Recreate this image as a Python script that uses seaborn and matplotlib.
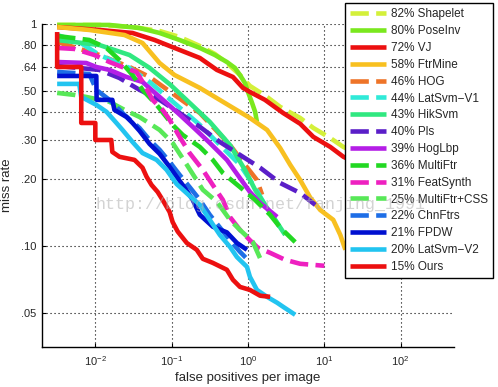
import numpy as np
import pandas as pd
import matplotlib
matplotlib.use("Agg")
import matplotlib.pyplot as plt
import seaborn as sns
from matplotlib.ticker import NullLocator, FixedLocator, FixedFormatter

# ---------------------------------------------
# ROC data (fppi, miss rate)
# ---------------------------------------------
names = ["82% Shapelet", "80% PoseInv", "72% VJ", "58% FtrMine", "46% HOG",
         "44% LatSvm\u2212V1", "43% HikSvm", "40% Pls", "39% HogLbp",
         "36% MultiFtr", "31% FeatSynth", "25% MultiFtr+CSS", "22% ChnFtrs",
         "21% FPDW", "20% LatSvm\u2212V2", "15% Ours"]

shapelet_x = [0.00316, 0.0113, 0.0307, 0.0695, 0.127, 0.234, 0.368, 0.529, 0.785, 1.06, 1.78, 2.64, 4.83, 7.17, 12.0, 17.8, 29.8]
shapelet_y = [0.99, 0.99, 0.969, 0.93, 0.874, 0.796, 0.733, 0.667, 0.589, 0.526, 0.469, 0.423, 0.377, 0.34, 0.306, 0.279, 0.257]

poseinv_x = [0.00316, 0.0153, 0.0379, 0.0695, 0.127, 0.234, 0.368, 0.529, 0.674, 0.785, 0.913, 1.0, 1.13, 1.24, 1.31]
poseinv_y = [0.99, 0.99, 0.959, 0.911, 0.847, 0.78, 0.725, 0.674, 0.634, 0.589, 0.542, 0.494, 0.441, 0.402, 0.362]

vj_x = [0.00316, 0.0113, 0.0307, 0.0597, 0.109, 0.234, 0.391, 0.635, 0.86, 1.06, 1.67, 2.89, 4.83, 7.17, 12.0, 17.8, 29.8]
vj_y = [0.969, 0.94, 0.911, 0.847, 0.78, 0.703, 0.621, 0.577, 0.515, 0.494, 0.455, 0.397, 0.355, 0.31, 0.279, 0.252, 0.232]

ftrmine_x = [0.00316, 0.00834, 0.0241, 0.0415, 0.0695, 0.109, 0.234, 0.635, 1.06, 1.78, 2.64, 3.57, 4.83, 6.54, 8.86, 13.1, 16.2, 18.9]
ftrmine_y = [0.969, 0.94, 0.892, 0.821, 0.667, 0.589, 0.515, 0.419, 0.377, 0.333, 0.276, 0.232, 0.198, 0.165, 0.145, 0.131, 0.112, 0.096]

hog_x = [0.00316, 0.0113, 0.028, 0.0514, 0.109, 0.234, 0.346, 0.58, 0.913, 1.31, 1.53]
hog_y = [0.83, 0.725, 0.64, 0.577, 0.479, 0.397, 0.344, 0.285, 0.232, 0.198, 0.17]

latsvm1_x = [0.00316, 0.00615, 0.0113, 0.028, 0.0514, 0.097, 0.234, 0.428, 0.785, 1.24, 1.67, 2.27, 2.89]
latsvm1_y = [0.892, 0.83, 0.725, 0.634, 0.548, 0.455, 0.351, 0.285, 0.232, 0.183, 0.153, 0.131, 0.115]

hiksvm_x = [0.00316, 0.0113, 0.028, 0.0514, 0.097, 0.172, 0.316, 0.58, 0.913, 1.24, 1.67, 2.27, 3.07]
hiksvm_y = [0.847, 0.804, 0.725, 0.634, 0.531, 0.441, 0.362, 0.285, 0.22, 0.179, 0.153, 0.131, 0.112]

pls_x = [0.00316, 0.0113, 0.0207, 0.0379, 0.0695, 0.127, 0.234, 0.428, 0.785, 1.44, 2.64, 4.83, 7.61]
pls_y = [0.647, 0.621, 0.571, 0.505, 0.455, 0.397, 0.344, 0.294, 0.257, 0.225, 0.192, 0.173, 0.153]

hoglbp_x = [0.00316, 0.00762, 0.0103, 0.0153, 0.0256, 0.0415, 0.0695, 0.116, 0.189, 0.316, 0.529, 0.785, 1.06, 1.44, 2.41]
hoglbp_y = [0.674, 0.667, 0.64, 0.621, 0.577, 0.548, 0.469, 0.402, 0.344, 0.291, 0.244, 0.202, 0.175, 0.156, 0.135]

multiftr_x = [0.00316, 0.00834, 0.014, 0.0207, 0.0307, 0.0415, 0.0635, 0.103, 0.14, 0.234, 0.346, 0.469, 0.785, 1.24, 1.95, 2.64, 4.15]
multiftr_y = [0.883, 0.847, 0.78, 0.688, 0.589, 0.505, 0.432, 0.351, 0.316, 0.279, 0.244, 0.213, 0.184, 0.161, 0.138, 0.121, 0.104]

featsynth_x = [0.00316, 0.0053, 0.0097, 0.0153, 0.0241, 0.0346, 0.0441, 0.0562, 0.0762, 0.0941, 0.127, 0.172, 0.256, 0.346, 0.469, 0.58, 0.785, 1.06, 1.35, 1.95, 3.07, 4.83, 10.0]
featsynth_y = [0.78, 0.772, 0.725, 0.674, 0.634, 0.608, 0.531, 0.455, 0.41, 0.37, 0.31, 0.262, 0.22, 0.188, 0.161, 0.135, 0.118, 0.106, 0.098, 0.093, 0.0865, 0.083, 0.0813]

mfcss_x = [0.00316, 0.0053, 0.00762, 0.0153, 0.0241, 0.0379, 0.0695, 0.103, 0.158, 0.256, 0.391, 0.58, 0.785, 1.16, 1.44]
mfcss_y = [0.489, 0.479, 0.469, 0.446, 0.41, 0.381, 0.333, 0.291, 0.232, 0.179, 0.158, 0.131, 0.118, 0.104, 0.088]

chnftrs_x = [0.00316, 0.00834, 0.0103, 0.0153, 0.0241, 0.0379, 0.0514, 0.0695, 0.0941, 0.127, 0.172, 0.234, 0.316, 0.428, 0.58, 0.785, 1.06]
chnftrs_y = [0.608, 0.595, 0.505, 0.455, 0.389, 0.34, 0.3, 0.271, 0.239, 0.209, 0.184, 0.161, 0.138, 0.121, 0.106, 0.094, 0.0847]

fpdw_x = [0.00316, 0.0103, 0.0104, 0.0167, 0.0178, 0.0256, 0.0307, 0.0379, 0.0514, 0.0695, 0.0941, 0.116, 0.148, 0.189, 0.234, 0.346, 0.529, 0.717, 0.97]
fpdw_y = [0.583, 0.583, 0.455, 0.455, 0.41, 0.381, 0.358, 0.33, 0.288, 0.26, 0.227, 0.205, 0.183, 0.161, 0.138, 0.122, 0.115, 0.103, 0.096]

latsvm2_x = [0.00316, 0.00615, 0.00654, 0.0103, 0.014, 0.0189, 0.0227, 0.0307, 0.0415, 0.0635, 0.0859, 0.116, 0.172, 0.234, 0.316, 0.428, 0.58, 0.717, 0.97, 1.06, 1.31, 1.78, 2.41, 2.89, 4.15]
latsvm2_y = [0.537, 0.537, 0.469, 0.432, 0.402, 0.358, 0.333, 0.294, 0.262, 0.244, 0.22, 0.19, 0.168, 0.153, 0.131, 0.112, 0.099, 0.089, 0.0804, 0.0725, 0.0633, 0.0589, 0.0554, 0.0531, 0.0489]

ours_x = [0.00316, 0.00316, 0.00654, 0.00654, 0.01, 0.01, 0.0162, 0.0167, 0.0207, 0.0326, 0.0415, 0.0469, 0.0546, 0.0655, 0.0762, 0.0941, 0.103, 0.12, 0.158, 0.213, 0.256, 0.346, 0.529, 0.635, 0.785, 1.06, 1.44, 1.95]
ours_y = [0.92, 0.64, 0.64, 0.358, 0.358, 0.3, 0.3, 0.265, 0.252, 0.244, 0.225, 0.205, 0.188, 0.175, 0.161, 0.142, 0.128, 0.116, 0.103, 0.096, 0.0874, 0.0838, 0.078, 0.0703, 0.0653, 0.0633, 0.0596, 0.0589]

series = [
    (shapelet_x, shapelet_y, "#d4f03a", True),
    (poseinv_x, poseinv_y, "#7ae81e", False),
    (vj_x, vj_y, "#ec1010", False),
    (ftrmine_x, ftrmine_y, "#f8c020", False),
    (hog_x, hog_y, "#ee7428", True),
    (latsvm1_x, latsvm1_y, "#30ead8", True),
    (hiksvm_x, hiksvm_y, "#30e880", False),
    (pls_x, pls_y, "#5a1ec8", True),
    (hoglbp_x, hoglbp_y, "#b41ee6", False),
    (multiftr_x, multiftr_y, "#22d822", True),
    (featsynth_x, featsynth_y, "#ee20c0", True),
    (mfcss_x, mfcss_y, "#58e858", True),
    (chnftrs_x, chnftrs_y, "#1e6ee6", True),
    (fpdw_x, fpdw_y, "#0010d0", False),
    (latsvm2_x, latsvm2_y, "#22c4f0", False),
    (ours_x, ours_y, "#ec1010", False),
]

ytick_vals = [0.05, 0.10, 0.20, 0.30, 0.40, 0.50, 0.64, 0.80, 1.0]
ytick_labels = [".05", ".10", ".20", ".30", ".40", ".50", ".64", ".80", "1"]
xtick_vals = [1e-2, 1e-1, 1e0, 1e1, 1e2]

# ---------------------------------------------
# Plot
# ---------------------------------------------
sns.set_style("white")
plt.rcParams["font.family"] = ["Liberation Sans", "DejaVu Sans"]
plt.rcParams["mathtext.default"] = "regular"

fig = plt.figure(figsize=(4.98, 3.87), dpi=100)
ax = fig.add_axes([0.0843, 0.1034, 0.8273, 0.8346])
ax.set_xscale("log")
ax.set_yscale("log")

for (xs, ys, col, dashed), name in zip(series, names):
    df = pd.DataFrame({"fppi": xs, "miss": ys})
    ls = (0, (4.0, 1.6)) if dashed else "-"
    sns.lineplot(data=df, x="fppi", y="miss", ax=ax, sort=False, estimator=None,
                 color=col, linewidth=3.3, linestyle=ls, label=name,
                 clip_on=False, solid_capstyle="butt", dash_capstyle="butt",
                 legend=False)

ax.set_xlim(2e-3, 5e2)
ax.set_ylim(0.035, 1.0)
ax.xaxis.set_major_locator(FixedLocator(xtick_vals))
ax.xaxis.set_minor_locator(NullLocator())
ax.yaxis.set_major_locator(FixedLocator(ytick_vals))
ax.yaxis.set_major_formatter(FixedFormatter(ytick_labels))
ax.yaxis.set_minor_locator(NullLocator())
ax.tick_params(direction="in", length=3, width=0.8, labelsize=8, color="black",
               top=False, right=False, left=True, bottom=True, pad=4)
ax.tick_params(axis="x", pad=5)
ax.grid(True, which="major", linestyle=(0, (1, 2.6)), color="black", linewidth=0.8)
for side in ["top", "right"]:
    ax.spines[side].set_visible(False)
for side in ["left", "bottom"]:
    ax.spines[side].set_color("black")
    ax.spines[side].set_linewidth(1.0)

ax.set_xlabel("false positives per image", fontsize=9.5, labelpad=3)
ax.set_ylabel("miss rate", fontsize=9.5, labelpad=6)

leg = ax.legend(loc="upper right", bbox_to_anchor=(493 / 498, 1 - 3 / 387),
                bbox_transform=fig.transFigure, fontsize=8.5, frameon=True,
                fancybox=False, framealpha=1, edgecolor="black",
                handlelength=3.0, handletextpad=0.42, labelspacing=0.41,
                borderpad=0.45, borderaxespad=0)
leg.get_frame().set_linewidth(1.0)

# blog watermark (as in the picture, it runs across the plot)
fig.text(95 / 498, 1 - 205 / 387, "http://blog.csdn.net/fanjing_1991",
         family=["Liberation Mono", "DejaVu Sans Mono"], fontsize=12,
         color="#b0b0b0", alpha=0.55, va="center", ha="left", zorder=10)

fig.savefig("out.png", dpi=100)
